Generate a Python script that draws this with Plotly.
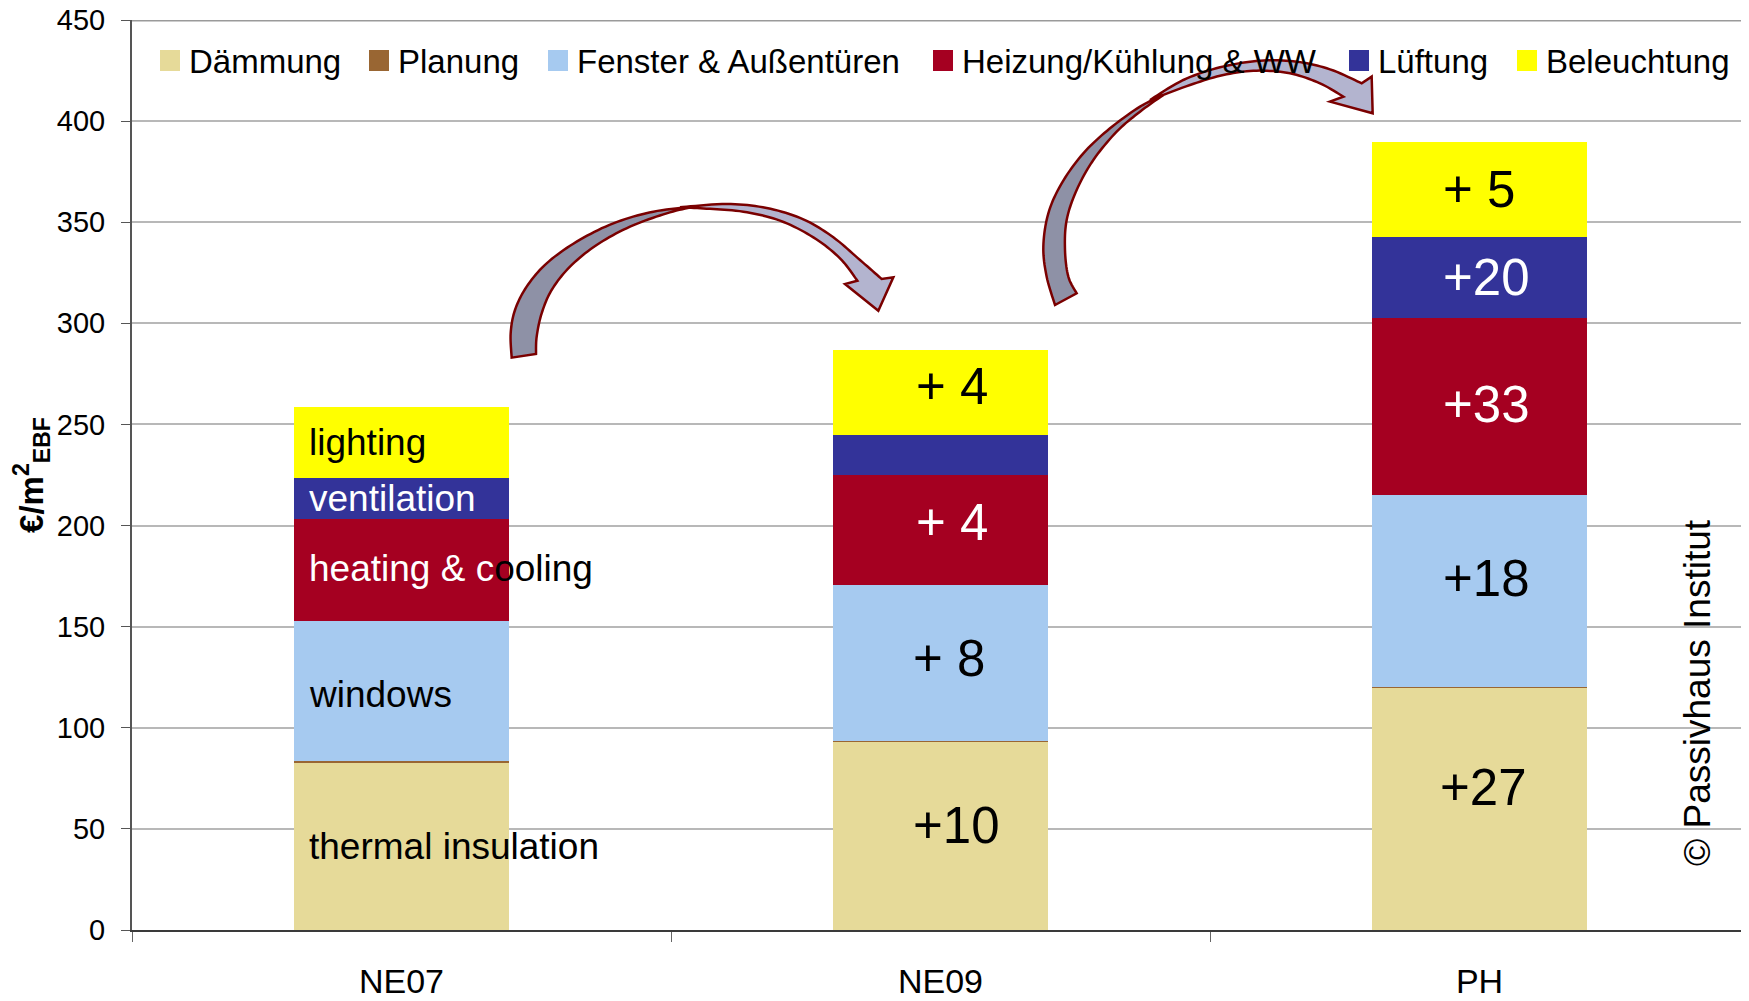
import plotly.graph_objects as go

# ---------------- data ----------------
categories = ["NE07", "NE09", "PH"]
series_names = ["Dämmung", "Planung", "Fenster & Außentüren",
                "Heizung/Kühlung & WW", "Lüftung", "Beleuchtung"]
daemmung = [83.0, 93.0, 120.0]
planung = [0.8, 0.5, 0.3]
fenster = [68.8, 76.9, 94.8]
heizung = [50.5, 54.5, 87.5]
lueftung = [20.3, 19.7, 40.2]
beleuchtung = [35.0, 42.2, 47.0]
series_values = [daemmung, planung, fenster, heizung, lueftung, beleuchtung]
series_colors = ["#e6da99", "#996633", "#a6caf0", "#a50021", "#333399", "#ffff00"]

y_tick_values = [0, 50, 100, 150, 200, 250, 300, 350, 400, 450]

# labels inside bars (series index they belong to)
label_series = [0, 2, 3, 4, 5]
ne07_labels = ["thermal insulation", "windows",
               "<span style='color:white'>heating &amp; c</span>ooling",
               "ventilation", "lighting"]
ne07_label_colors = ["black", "black", "black", "white", "black"]
ne09_labels = ["+10", "+ 8", "+ 4", "", "+ 4"]
ne09_label_colors = ["black", "black", "white", "white", "black"]
ph_labels = ["+27", "+18", "+33", "+20", "+ 5"]
ph_label_colors = ["black", "black", "white", "white", "black"]
copyright_text = "© Passivhaus Institut"

FONT = "Liberation Sans, Arial, sans-serif"
W, H = 1749, 1001
PAGE_OFFSET = 8  # default body margin of the html page
L, T = 132 - PAGE_OFFSET, 20 - PAGE_OFFSET
PW, PH = 1617, 910
R = W - L - PW
B = H - T - PH


def to_paper(px, py):
    """screen pixel -> paper coords"""
    fx, fy = px - PAGE_OFFSET, py - PAGE_OFFSET
    return ((fx - L) / PW, (T + PH - fy) / PH)


fig = go.Figure()
for name, vals, col in zip(series_names, series_values, series_colors):
    fig.add_trace(go.Bar(x=categories, y=vals, name=name, width=0.4,
                         marker=dict(color=col, line=dict(width=0)),
                         showlegend=False, hoverinfo="name+y"))


def seg_center(ci, si):
    base = sum(series_values[k][ci] for k in range(si))
    return base + series_values[si][ci] / 2.0


annotations = []
# NE07 descriptive labels
ne07_yshift = [0, -4, 2, 0, 0]
for lab, si, col, ys in zip(ne07_labels, label_series, ne07_label_colors, ne07_yshift):
    annotations.append(dict(x=-0.2, y=seg_center(0, si), xref="x", yref="y",
                            text=lab, showarrow=False, xanchor="left", yanchor="middle",
                            xshift=13, yshift=ys,
                            font=dict(family=FONT, size=37, color=col)))
# NE09 increments
ne09_xshift = [16, 8, 11, 0, 11]
ne09_yshift = [10, 5, 8, 0, 6]
for lab, si, col, xs, ys in zip(ne09_labels, label_series, ne09_label_colors, ne09_xshift, ne09_yshift):
    if lab:
        annotations.append(dict(x=1, y=seg_center(1, si), xref="x", yref="y",
                                text=lab, showarrow=False, xanchor="center", yanchor="middle",
                                xshift=xs, yshift=ys,
                                font=dict(family=FONT, size=51, color=col)))
# PH increments
ph_xshift = [4, 7, 7, 7, -1]
ph_yshift = [21, 12, 2, 0, 0]
for lab, si, col, xs, ys in zip(ph_labels, label_series, ph_label_colors, ph_xshift, ph_yshift):
    annotations.append(dict(x=2, y=seg_center(2, si), xref="x", yref="y",
                            text=lab, showarrow=False, xanchor="center", yanchor="middle",
                            xshift=xs, yshift=ys,
                            font=dict(family=FONT, size=51, color=col)))

# copyright
cx, cy = to_paper(1697, 693)
annotations.append(dict(x=cx, y=cy, xref="paper", yref="paper", text=copyright_text,
                        textangle=-90, showarrow=False, xanchor="center", yanchor="middle",
                        font=dict(family=FONT, size=37, color="black")))

shapes = []
# manual legend
legend_swatch_left = [160, 369, 548, 933, 1349, 1517]
for name, col, sx in zip(series_names, series_colors, legend_swatch_left):
    x0, y0 = to_paper(sx, 71)
    x1, y1 = to_paper(sx + 20, 50)
    shapes.append(dict(type="rect", xref="paper", yref="paper", x0=x0, x1=x1, y0=y0, y1=y1,
                       fillcolor=col, line=dict(width=0), layer="above"))
    tx, ty = to_paper(sx + 27, 62)
    annotations.append(dict(x=tx, y=ty, xref="paper", yref="paper", text=name,
                            showarrow=False, xanchor="left", yanchor="middle",
                            font=dict(family=FONT, size=33, color="black")))

# top border line at 450
shapes.append(dict(type="line", xref="paper", yref="y", x0=0, x1=1, y0=450, y1=450,
                   line=dict(color="#9a9a9a", width=3), layer="below"))


# ---- curved arrows (decoration) ----
def catmull(points, n=10):
    pts = [points[0]] + list(points) + [points[-1]]
    out = []
    for i in range(1, len(pts) - 2):
        p0, p1, p2, p3 = pts[i - 1], pts[i], pts[i + 1], pts[i + 2]
        for k in range(n):
            t = k / n
            res = []
            for d in range(2):
                res.append(0.5 * ((2 * p1[d]) + (-p0[d] + p2[d]) * t
                                  + (2 * p0[d] - 5 * p1[d] + 4 * p2[d] - p3[d]) * t * t
                                  + (-p0[d] + 3 * p1[d] - 3 * p2[d] + p3[d]) * t ** 3))
            out.append(tuple(res))
    out.append(points[-1])
    return out


def poly_path(pts, ox, oy):
    s = []
    for i, (zx, zy) in enumerate(pts):
        px, py = to_paper(zx / 3.0 + ox, zy / 3.0 + oy)
        s.append(("M" if i == 0 else "L") + f"{px:.5f},{py:.5f}")
    return " ".join(s) + " Z"


def arrow_shapes(ox, oy, dark_outer, dark_inner, light_outer, head, light_inner):
    dark = catmull(dark_outer) + list(reversed(catmull(dark_inner)))
    light = catmull(light_outer) + list(head) + catmull(light_inner)
    res = []
    for pts, fc in ((dark, "#8e91a6"), (light, "#b3b4cf")):
        res.append(dict(type="path", xref="paper", yref="paper", path=poly_path(pts, ox, oy),
                        fillcolor=fc, line=dict(color="#7a0000", width=2.5), layer="above"))
    return res


shapes += arrow_shapes(
    480, 180,
    [(95, 533), (92, 460), (105, 390), (140, 320), (200, 250), (290, 185), (400, 130), (520, 95), (640, 80)],
    [(168, 522), (170, 470), (185, 400), (215, 330), (270, 260), (350, 195), (450, 140), (560, 100), (640, 80)],
    [(600, 82), (740, 72), (860, 84), (970, 118), (1060, 172), (1140, 240), (1205, 297)],
    [(1240, 292), (1195, 392), (1095, 312)],
    [(1132, 302), (1080, 235), (1000, 172), (900, 122), (790, 95), (680, 86), (600, 82)],
)
shapes += arrow_shapes(
    1030, 30,
    [(75, 825), (50, 740), (40, 650), (55, 550), (95, 460), (160, 370), (240, 295), (330, 230), (400, 195)],
    [(140, 790), (115, 740), (105, 660), (110, 570), (140, 480), (190, 390), (260, 305), (330, 245), (400, 195)],
    [(360, 210), (460, 150), (570, 112), (690, 92), (800, 95), (900, 118), (995, 160)],
    [(1025, 140), (1028, 250), (900, 215)],
    [(940, 200), (870, 160), (780, 130), (680, 122), (580, 135), (480, 165), (360, 210)],
)

fig.update_layout(
    width=W, height=H,
    margin=dict(l=L, r=R, t=T, b=B, pad=0, autoexpand=False),
    barmode="stack",
    plot_bgcolor="white", paper_bgcolor="white",
    font=dict(family=FONT, color="black"),
    showlegend=False,
    annotations=annotations,
    shapes=shapes,
    xaxis=dict(type="category", range=[-0.5, 2.5], showline=True, linecolor="#3a3a3a",
               linewidth=2, ticks="outside", tickson="boundaries", ticklen=10,
               tickcolor="#666666", tickwidth=1, showgrid=False, automargin=False,
               tickfont=dict(family=FONT, size=34, color="black"), ticklabelstandoff=20),
    yaxis=dict(range=[0, 450], tickvals=y_tick_values, showgrid=True, gridcolor="#b8b8b8",
               gridwidth=1.5, zeroline=False, showline=True, linecolor="#555555", linewidth=2,
               ticks="outside", ticklen=9, tickcolor="#555555", automargin=False,
               ticklabeloverflow="allow",
               tickfont=dict(family=FONT, size=29, color="black"), ticklabelstandoff=10,
               title=dict(text="<b>€/m<sup>2</sup><sub>EBF</sub></b>", standoff=10,
                          font=dict(family=FONT, size=33, color="black"))),
)

fig.write_html("out.html")
